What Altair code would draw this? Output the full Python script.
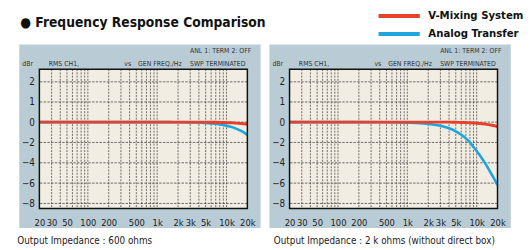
import altair as alt
import pandas as pd

# ---------------- data ----------------
freq = [20, 50, 100, 200, 500, 1000, 1500, 2000, 3000, 4000, 5000, 6000, 7000,
        8000, 9000, 10000, 12000, 14000, 16000, 18000, 20000]
p1_vmix = [0, 0, 0, 0, 0, 0, 0, 0, 0, 0, 0, -0.01, -0.02, -0.03, -0.04, -0.05,
           -0.07, -0.1, -0.13, -0.16, -0.2]
p1_analog = [0, 0, 0, 0, 0, 0, 0, -0.01, -0.03, -0.06, -0.09, -0.13, -0.17, -0.23,
             -0.29, -0.35, -0.49, -0.66, -0.84, -1.04, -1.26]
p2_vmix = [0, 0, 0, 0, 0, 0, 0, 0, 0, 0, -0.02, -0.03, -0.05, -0.07, -0.09, -0.11,
           -0.16, -0.22, -0.29, -0.36, -0.45]
p2_analog = [0, 0, 0, 0, -0.01, -0.05, -0.1, -0.18, -0.35, -0.6, -0.9, -1.25, -1.6,
             -2.0, -2.45, -2.85, -3.6, -4.3, -5.0, -5.6, -6.2]

series_names = ["V-Mixing System", "Analog Transfer"]
series_colors = ["#e8412b", "#1ba6e0"]

xtick_vals = [20, 30, 50, 100, 200, 500, 1000, 2000, 3000, 5000, 10000, 20000]
ytick_vals = [2, 1, 0, -2, -4, -6, -8]
xgrid_vals = [30, 40, 50, 60, 70, 80, 90, 100, 200, 300, 400, 500, 600, 700, 800,
              900, 1000, 2000, 3000, 4000, 5000, 6000, 7000, 8000, 9000, 10000]
ygrid_vals = [2, 1, 0, -2, -4, -6, -8]

title_text = "\u25CF Frequency Response Comparison"
captions = ["Output Impedance : 600 ohms",
            "Output Impedance : 2 k ohms (without direct box)"]
header_left = ["dBr", "RMS  CH1,", "vs", "GEN FREQ./Hz"]
header_right = ["ANL 1: TERM  2: OFF", "SWP TERMINATED"]

# ---------------- style ----------------
W, H = 212, 142
NARROW = "Liberation Sans Narrow, Arial Narrow, DejaVu Sans Condensed, Liberation Sans, sans-serif"
PANEL_BG = "#b9ccd6"
PLOT_BG = "#f2ede2"

xscale = alt.Scale(type="log", domain=[20, 20000], nice=False)
yscale = alt.Scale(domain=[-8.49, 0, 2.63], range=[H, 54, 0], nice=False, zero=False)
cscale = alt.Scale(domain=series_names, range=series_colors)

xaxis = alt.Axis(values=xtick_vals, title=None, grid=False, domain=False, ticks=False,
                 labelExpr="datum.value >= 1000 ? (datum.value / 1000) + 'k' : datum.value",
                 labelFont=NARROW, labelFontSize=9.5, labelColor="#222", labelPadding=9,
                 labelFlush=False, labelOverlap=False, zindex=1)
yaxis = alt.Axis(values=ytick_vals, title=None, grid=False, domain=False, ticks=False,
                 labelFont=NARROW, labelFontSize=10, labelColor="#222", labelPadding=5,
                 labelOverlap=False, zindex=1)


def panel(vmix, analog, caption, idx):
    df = pd.DataFrame({
        "freq": freq * 2,
        "level": vmix + analog,
        "series": [series_names[0]] * len(freq) + [series_names[1]] * len(freq),
    })
    box = pd.DataFrame({"x": [20], "x2": [20000], "y": [-8.49], "y2": [2.63]})

    layers = []
    # panel background (decoration around the plot)
    layers.append(alt.Chart(box).mark_rect(fill=PANEL_BG).encode(
        x=alt.value(-20.5), x2=alt.value(225.5), y=alt.value(-25), y2=alt.value(162)))
    if idx == 0:
        # invisible anchor fixing the top-left corner of the page
        layers.append(alt.Chart(box).mark_rect(opacity=0).encode(
            x=alt.value(-31.5), x2=alt.value(-31), y=alt.value(-59), y2=alt.value(-58.5)))
        layers.append(alt.Chart(box).mark_text(
            text=title_text, font=NARROW, fontSize=14, fontWeight="bold", color="#111",
            align="left", baseline="middle").encode(x=alt.value(-19.5), y=alt.value(-46.5)))
    # plot area fill
    layers.append(alt.Chart(box).mark_rect(fill=PLOT_BG).encode(
        x=alt.X("x:Q", scale=xscale, axis=xaxis), x2="x2",
        y=alt.Y("y:Q", scale=yscale, axis=yaxis), y2="y2"))
    # grid
    layers.append(alt.Chart(pd.DataFrame({"g": xgrid_vals})).mark_rule(
        color="#333", strokeWidth=0.7, strokeDash=[2, 1.3]).encode(
        x=alt.X("g:Q", scale=xscale, axis=xaxis)))
    layers.append(alt.Chart(pd.DataFrame({"g": ygrid_vals})).mark_rule(
        color="#333", strokeWidth=0.7, strokeDash=[2.5, 1.3]).encode(
        y=alt.Y("g:Q", scale=yscale, axis=yaxis)))
    # curves (analog under v-mixing)
    legend = None
    if idx == 1:
        legend = alt.Legend(
            title=None, orient="none", legendX=106, legendY=-60,
            symbolType="M-21,0H21", symbolSize=4, symbolStrokeWidth=4,
            labelOffset=24, labelFont=NARROW, labelFontSize=11.5, labelFontWeight="bold",
            labelColor="#111", rowPadding=1.5)
    for name, sw in [(series_names[1], 2.6), (series_names[0], 3)]:
        layers.append(alt.Chart(df).transform_filter(
            alt.datum.series == name).mark_line(strokeWidth=sw, interpolate="monotone").encode(
            x=alt.X("freq:Q", scale=xscale, axis=xaxis),
            y=alt.Y("level:Q", scale=yscale, axis=yaxis),
            color=alt.Color("series:N", scale=cscale, legend=legend, sort=series_names)))
    # plot border
    layers.append(alt.Chart(box).mark_rect(fill=None, stroke="#111", strokeWidth=1.5).encode(
        x=alt.X("x:Q", scale=xscale, axis=xaxis), x2="x2",
        y=alt.Y("y:Q", scale=yscale, axis=yaxis), y2="y2"))
    # header texts
    lx = [-17.5, 9.5, 86.5, 100.5]
    for t, xx in zip(header_left, lx):
        layers.append(alt.Chart(box).mark_text(
            text=t, font=NARROW, fontSize=7, color="#333", align="left",
            baseline="middle").encode(x=alt.value(xx), y=alt.value(-5.5)))
    for t, yy in zip(header_right, [-18, -5.5]):
        layers.append(alt.Chart(box).mark_text(
            text=t, font=NARROW, fontSize=7, color="#333", align="left",
            baseline="middle").encode(x=alt.value(153.5), y=alt.value(yy)))
    # caption
    cx = -22.5 if idx == 0 else -16
    layers.append(alt.Chart(box).mark_text(
        text=caption, font=NARROW, fontSize=10, color="#222", align="left",
        baseline="middle").encode(x=alt.value(cx), y=alt.value(175)))
    return alt.layer(*layers).properties(width=W, height=H)


p1 = panel(p1_vmix, p1_analog, captions[0], 0)
p2 = panel(p2_vmix, p2_analog, captions[1], 1)

chart = alt.hconcat(p1, p2, spacing=43, bounds="flush").resolve_legend(
    color="independent").properties(padding=0, background="white").configure_view(
    stroke=None)

chart.save("out.html", embed_options={"renderer": "svg", "actions": False})
